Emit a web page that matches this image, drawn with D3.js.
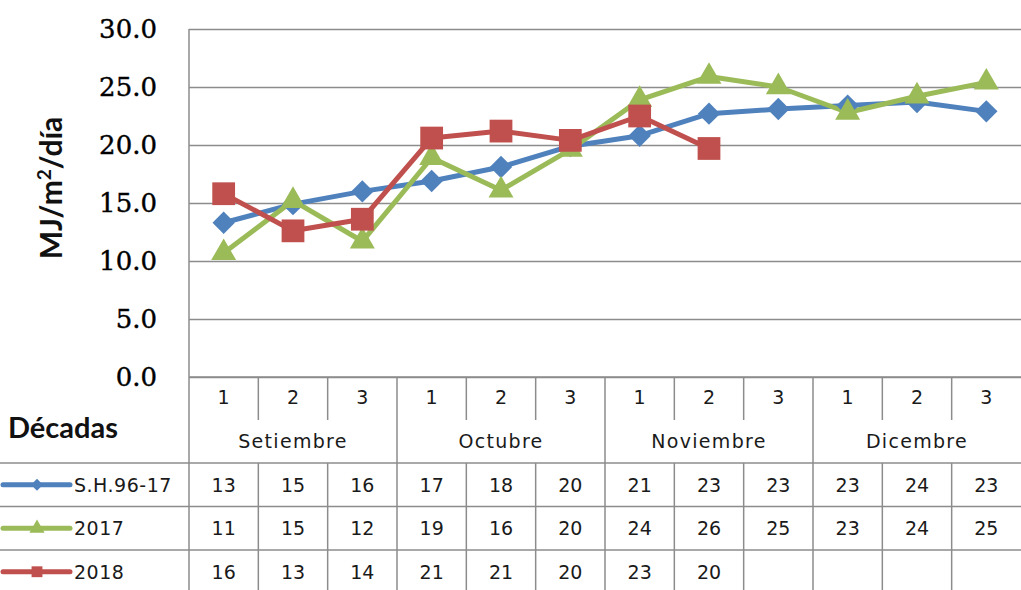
<!DOCTYPE html>
<meta charset="utf-8">
<script src="https://d3js.org/d3.v7.min.js"></script>
<style>
  body { margin: 0; background: #fff; }
  svg { display: block; }
</style>
<div id="chart"></div>
<script>
  // data
  var decades = ["1", "2", "3", "1", "2", "3", "1", "2", "3", "1", "2", "3"];
  var months = ["Setiembre", "Octubre", "Noviembre", "Dicembre"];
  var seriesNames = ["S.H.96-17", "2017", "2018"];
  var sh9617 = [13.3, 14.9, 16.0, 16.9, 18.1, 19.9, 20.8, 22.7, 23.1, 23.4, 23.7, 22.9];
  var y2017 = [10.7, 15.2, 11.7, 18.9, 16.1, 19.6, 23.9, 25.9, 25.0, 22.8, 24.2, 25.4];
  var y2018 = [15.8, 12.6, 13.6, 20.6, 21.2, 20.4, 22.5, 19.7];
  var tableSH = [13, 15, 16, 17, 18, 20, 21, 23, 23, 23, 24, 23];
  var table2017 = [11, 15, 12, 19, 16, 20, 24, 26, 25, 23, 24, 25];
  var table2018 = [16, 13, 14, 21, 21, 20, 23, 20];
  var yTicks = [0, 5, 10, 15, 20, 25, 30];

  var W = 1021, H = 590;
  var plotLeft = 189, plotRight = 1021, plotTop = 29, plotBottom = 377;
  var rowDecade = 420, rowMonth = 463, rowH = 43.5;

  var colors = ["#4f81bd", "#9bbb59", "#c0504d"];
  var values = [sh9617, y2017, y2018];
  var tables = [tableSH, table2017, table2018];
  var gridColor = "#8c8c8c";

  var svg = d3.select("#chart").append("svg")
    .attr("width", W)
    .attr("height", H);

  var x = d3.scaleBand()
    .domain(d3.range(decades.length))
    .range([plotLeft, plotRight]);
  var y = d3.scaleLinear()
    .domain([0, 30])
    .range([plotBottom, plotTop]);

  // gridlines + y labels
  var yAxis = d3.axisLeft(y)
    .tickValues(yTicks)
    .tickFormat(d3.format(".1f"))
    .tickSize(-(plotRight - plotLeft));
  var ga = svg.append("g")
    .attr("transform", "translate(" + plotLeft + ",0)")
    .call(yAxis);
  ga.select(".domain").remove();
  ga.selectAll(".tick line").attr("stroke", gridColor).attr("stroke-width", 1.5);
  ga.selectAll(".tick text")
    .attr("x", -32)
    .style("font-family", "DejaVu Serif")
    .style("font-size", "26px")
    .attr("fill", "#000")
    .attr("stroke", "#000")
    .attr("stroke-width", 0.4);

  // plot left border
  svg.append("line")
    .attr("x1", plotLeft).attr("x2", plotLeft)
    .attr("y1", plotTop).attr("y2", H)
    .attr("stroke", gridColor).attr("stroke-width", 1.5);

  // y title
  var yt = svg.append("text")
    .attr("transform", "translate(62,188) rotate(-90)")
    .attr("text-anchor", "middle")
    .style("font-family", "Lato")
    .style("font-weight", "bold")
    .style("font-size", "30px")
    .attr("fill", "#111");
  yt.append("tspan").text("MJ/m");
  yt.append("tspan").attr("dy", -11).style("font-size", "19px").text("2");
  yt.append("tspan").attr("dy", 11).text("/día");

  // lines and markers
  var cx = function(i) { return x(i) + x.bandwidth() / 2; };
  var line = d3.line()
    .x(function(d, i) { return cx(i); })
    .y(function(d) { return y(d); });

  var markerD = [
    d3.symbol().type(d3.symbolSquare).size(250)(),
    d3.symbol().type(d3.symbolTriangle).size(270)(),
    d3.symbol().type(d3.symbolSquare2).size(660)()
  ];
  var keyD = [
    d3.symbol().type(d3.symbolSquare).size(70)(),
    d3.symbol().type(d3.symbolTriangle).size(100)(),
    d3.symbol().type(d3.symbolSquare2).size(150)()
  ];

  values.forEach(function(vals, s) {
    svg.append("path")
      .datum(vals)
      .attr("d", line)
      .attr("fill", "none")
      .attr("stroke", colors[s])
      .attr("stroke-width", 5)
      .attr("stroke-linejoin", "round");
  });
  values.forEach(function(vals, s) {
    svg.append("g").selectAll("path")
      .data(vals)
      .enter().append("path")
      .attr("d", markerD[s])
      .attr("transform", function(d, i) {
        return "translate(" + cx(i) + "," + y(d) + ")" + (s === 0 ? " rotate(45)" : "");
      })
      .attr("fill", colors[s]);
  });

  // data table
  var tbl = svg.append("g");
  var lineStyle = function(sel) { return sel.attr("stroke", gridColor).attr("stroke-width", 1.5); };

  // x axis line
  lineStyle(tbl.append("line")
    .attr("x1", plotLeft).attr("x2", W).attr("y1", plotBottom).attr("y2", plotBottom));

  // decade separators (short) and month separators (full)
  d3.range(decades.length).forEach(function(i) {
    if (i === 0) return;
    var xx = x(i);
    var full = i % 3 === 0;
    lineStyle(tbl.append("line")
      .attr("x1", xx).attr("x2", xx)
      .attr("y1", plotBottom).attr("y2", full ? H : rowDecade));
    if (!full) {
      lineStyle(tbl.append("line")
        .attr("x1", xx).attr("x2", xx)
        .attr("y1", rowMonth).attr("y2", H));
    }
  });

  // horizontal rows
  [rowMonth, rowMonth + rowH, rowMonth + 2 * rowH].forEach(function(yy) {
    lineStyle(tbl.append("line")
      .attr("x1", 0).attr("x2", W).attr("y1", yy).attr("y2", yy));
  });

  var tableFont = function(sel) {
    return sel.style("font-family", "DejaVu Sans")
      .style("font-size", "19px")
      .attr("fill", "#1a1a1a");
  };

  tableFont(tbl.selectAll(".dec").data(decades).enter().append("text")
    .attr("x", function(d, i) { return cx(i); })
    .attr("y", 404)
    .attr("text-anchor", "middle")
    .text(function(d) { return d; }));

  tableFont(tbl.selectAll(".mon").data(months).enter().append("text")
    .attr("x", function(d, i) { return cx(i * 3 + 1); })
    .attr("y", 448)
    .attr("text-anchor", "middle")
    .style("letter-spacing", "1.3px")
    .text(function(d) { return d; }));

  svg.append("text")
    .attr("x", 8).attr("y", 438)
    .style("font-family", "Lato")
    .style("font-weight", "bold")
    .style("font-size", "29px")
    .attr("fill", "#111")
    .text("Décadas");

  tables.forEach(function(vals, s) {
    var cy = rowMonth + rowH * s + rowH / 2;
    tableFont(tbl.append("g").selectAll("text").data(vals).enter().append("text")
      .attr("x", function(d, i) { return cx(i); })
      .attr("y", cy + 7)
      .attr("text-anchor", "middle")
      .text(function(d) { return d; }));

    // legend key
    svg.append("line")
      .attr("x1", 3).attr("x2", 70).attr("y1", cy).attr("y2", cy)
      .attr("stroke", colors[s]).attr("stroke-width", 5)
      .attr("stroke-linecap", "round");
    svg.append("path")
      .attr("d", keyD[s])
      .attr("transform", "translate(37," + cy + ")" + (s === 0 ? " rotate(45)" : ""))
      .attr("fill", colors[s]);

    tableFont(svg.append("text")
      .attr("x", 74).attr("y", cy + 7)
      .style("letter-spacing", "0.5px")
      .text(seriesNames[s]));
  });
</script>
